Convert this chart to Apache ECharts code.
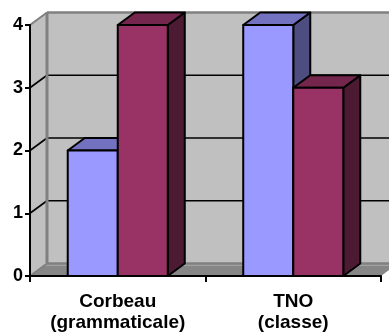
<!DOCTYPE html>
<html>
<head>
<meta charset="utf-8">
<script src="https://cdn.jsdelivr.net/npm/echarts@6/dist/echarts.min.js"></script>
<style>
  html, body { margin: 0; padding: 0; background: #fff; }
  #chart { width: 389px; height: 334px; }
</style>
</head>
<body>
<div id="chart"></div>
<script>
// Categories and the two series
const categories = ['Corbeau\n(grammaticale)', 'TNO\n(classe)'];
const seriesBlue = [2, 4];
const seriesRed = [4, 3];
const yTicks = [0, 1, 2, 3, 4];

// Pseudo-3D depth offset (pixels) of the back wall and bar tops
const DX = 17;
const DY = -12.5;
const FONT = 'Liberation Sans, Arial, sans-serif';

const chart = echarts.init(document.getElementById('chart'), null, { renderer: 'canvas' });

// Walls, floor and gridlines of the 3D box
function renderBox(params, api) {
  const cs = params.coordSys;
  const x0 = cs.x, x1 = cs.x + cs.width;
  const yTop = cs.y, yBot = cs.y + cs.height;
  const children = [];
  // back wall
  children.push({ type: 'rect', shape: { x: x0 + DX, y: yTop + DY, width: cs.width, height: cs.height },
    style: { fill: '#c0c0c0' } });
  // left wall
  children.push({ type: 'polygon', shape: { points: [[x0, yTop], [x0 + DX, yTop + DY], [x0 + DX, yBot + DY], [x0, yBot]] },
    style: { fill: '#c0c0c0' } });
  // floor
  children.push({ type: 'polygon', shape: { points: [[x0, yBot], [x1, yBot], [x1 + DX, yBot + DY], [x0 + DX, yBot + DY]] },
    style: { fill: '#868686' } });
  children.push({ type: 'polygon', shape: { points: [[x0 + DX * 0.8, yBot + DY * 0.8], [x1 + DX * 0.8, yBot + DY * 0.8], [x1 + DX, yBot + DY], [x0 + DX, yBot + DY]] },
    style: { fill: '#a2a2a2' } });
  // gridlines on back and left walls
  yTicks.forEach(function (v) {
    const y = api.coord([0, v])[1];
    const edge = (v === yTicks[0] || v === yTicks[yTicks.length - 1]);
    const color = edge ? '#808080' : '#000';
    children.push({ type: 'line', shape: { x1: x0 + DX, y1: y + DY, x2: x1 + DX, y2: y + DY },
      style: { stroke: color, lineWidth: edge ? 2.5 : 1.6 } });
    children.push({ type: 'line', shape: { x1: x0, y1: y, x2: x0 + DX, y2: y + DY },
      style: { stroke: edge ? '#808080' : '#000', lineWidth: edge ? 2 : 1.6 } });
  });
  // inner corner edge
  children.push({ type: 'line', shape: { x1: x0 + DX, y1: yTop + DY, x2: x0 + DX, y2: yBot + DY },
    style: { stroke: '#808080', lineWidth: 3 } });
  return { type: 'group', children: children };
}

function barRenderer(front, top, side, offsetSign) {
  return function (params, api) {
    const idx = api.value(0);
    const val = api.value(1);
    const pTop = api.coord([idx, val]);
    const pBot = api.coord([idx, 0]);
    const w = api.size([1, 0])[0] * 0.285;
    const xa = pTop[0] + (offsetSign < 0 ? -w : 0);
    const xb = xa + w;
    const yt = pTop[1], yb = pBot[1];
    const stroke = { stroke: '#000', lineWidth: 2, lineJoin: 'round' };
    return {
      type: 'group',
      children: [
        { type: 'polygon', shape: { points: [[xb, yt], [xb + DX, yt + DY], [xb + DX, yb + DY], [xb, yb]] },
          style: Object.assign({ fill: side }, stroke) },
        { type: 'polygon', shape: { points: [[xa, yt], [xb, yt], [xb + DX, yt + DY], [xa + DX, yt + DY]] },
          style: Object.assign({ fill: top }, stroke) },
        { type: 'rect', shape: { x: xa, y: yt, width: w, height: yb - yt },
          style: Object.assign({ fill: front }, stroke) }
      ]
    };
  };
}

chart.setOption({
  animation: false,
  backgroundColor: '#ffffff',
  grid: { left: 30, right: 8, top: 25, bottom: 58 },
  xAxis: {
    type: 'category',
    data: categories,
    z: 5,
    axisLine: { show: true, lineStyle: { color: '#000', width: 2 } },
    axisTick: { show: true, length: 6, lineStyle: { color: '#000', width: 2 } },
    axisLabel: { color: '#000', fontSize: 19, fontWeight: 'bold', fontFamily: FONT, lineHeight: 21, margin: 15, interval: 0 },
    splitLine: { show: false }
  },
  yAxis: {
    type: 'value',
    min: 0, max: 4, interval: 1,
    z: 5,
    axisLine: { show: true, lineStyle: { color: '#000', width: 2 } },
    axisTick: { show: true, length: 5, lineStyle: { color: '#000', width: 2 } },
    axisLabel: { color: '#000', fontSize: 18, fontWeight: 'bold', fontFamily: FONT, margin: 7 },
    splitLine: { show: false }
  },
  series: [
    { type: 'custom', z: 1, data: [[0, 0]], renderItem: renderBox, silent: true },
    { type: 'custom', z: 3, data: seriesBlue.map(function (v, i) { return [i, v]; }),
      renderItem: barRenderer('#9999ff', '#7272c0', '#4d4d80', -1) },
    { type: 'custom', z: 3, data: seriesRed.map(function (v, i) { return [i, v]; }),
      renderItem: barRenderer('#993366', '#74264d', '#4d1a33', 1) }
  ]
});
</script>
</body>
</html>
